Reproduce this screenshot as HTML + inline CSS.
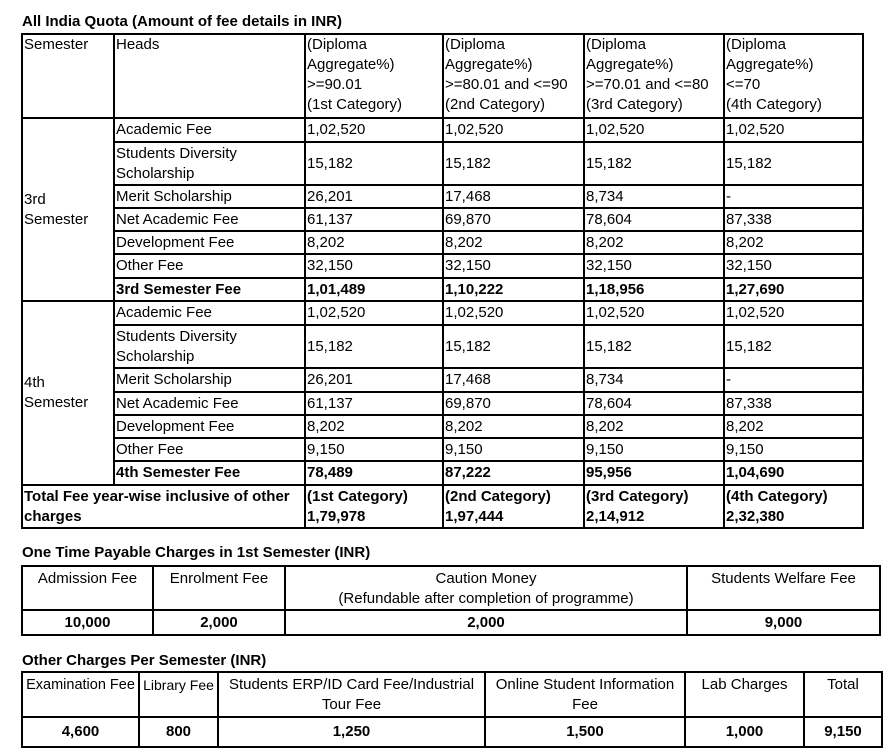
<!DOCTYPE html>
<html><head><meta charset="utf-8"><style>
body{margin:0;width:894px;height:754px;background:#fff;position:relative;font-family:"Liberation Sans",sans-serif;font-size:15px;color:#000;overflow:hidden}
.t{position:absolute;font-weight:bold;font-size:15px;white-space:nowrap}
table{position:absolute;border-collapse:collapse;table-layout:fixed}
td{border:2px solid #000;padding:0 1px;line-height:20px;vertical-align:middle;overflow:hidden;white-space:nowrap}
.h td{vertical-align:top}
b{font-weight:bold}
.c td{text-align:center}
.c td.top{vertical-align:top;padding-top:2px}
</style></head><body>
<div class="t" style="left:22px;top:13px">All India Quota (Amount of fee details in INR)</div>
<table style="left:21px;top:33px;width:841px">
<colgroup><col style="width:92px"><col style="width:191px"><col style="width:138px"><col style="width:141px"><col style="width:140px"><col style="width:139px"></colgroup>
<tr class="h" style="height:84px"><td>Semester</td><td>Heads</td><td>(Diploma<br>Aggregate%)<br>&gt;=90.01<br>(1st Category)</td><td>(Diploma<br>Aggregate%)<br>&gt;=80.01 and &lt;=90<br>(2nd Category)</td><td>(Diploma<br>Aggregate%)<br>&gt;=70.01 and &lt;=80<br>(3rd Category)</td><td>(Diploma<br>Aggregate%)<br>&lt;=70<br>(4th Category)</td></tr>
<tr style="height:24px"><td rowspan="7">3rd<br>Semester</td><td>Academic Fee</td><td>1,02,520</td><td>1,02,520</td><td>1,02,520</td><td>1,02,520</td></tr>
<tr style="height:43px"><td>Students Diversity<br>Scholarship</td><td>15,182</td><td>15,182</td><td>15,182</td><td>15,182</td></tr>
<tr style="height:23px"><td>Merit Scholarship</td><td>26,201</td><td>17,468</td><td>8,734</td><td>-</td></tr>
<tr style="height:23px"><td>Net Academic Fee</td><td>61,137</td><td>69,870</td><td>78,604</td><td>87,338</td></tr>
<tr style="height:23px"><td>Development Fee</td><td>8,202</td><td>8,202</td><td>8,202</td><td>8,202</td></tr>
<tr style="height:24px"><td>Other Fee</td><td>32,150</td><td>32,150</td><td>32,150</td><td>32,150</td></tr>
<tr style="height:23px"><td><b>3rd Semester Fee</b></td><td><b>1,01,489</b></td><td><b>1,10,222</b></td><td><b>1,18,956</b></td><td><b>1,27,690</b></td></tr>
<tr style="height:24px"><td rowspan="7">4th<br>Semester</td><td>Academic Fee</td><td>1,02,520</td><td>1,02,520</td><td>1,02,520</td><td>1,02,520</td></tr>
<tr style="height:43px"><td>Students Diversity<br>Scholarship</td><td>15,182</td><td>15,182</td><td>15,182</td><td>15,182</td></tr>
<tr style="height:24px"><td>Merit Scholarship</td><td>26,201</td><td>17,468</td><td>8,734</td><td>-</td></tr>
<tr style="height:23px"><td>Net Academic Fee</td><td>61,137</td><td>69,870</td><td>78,604</td><td>87,338</td></tr>
<tr style="height:23px"><td>Development Fee</td><td>8,202</td><td>8,202</td><td>8,202</td><td>8,202</td></tr>
<tr style="height:23px"><td>Other Fee</td><td>9,150</td><td>9,150</td><td>9,150</td><td>9,150</td></tr>
<tr style="height:24px"><td><b>4th Semester Fee</b></td><td><b>78,489</b></td><td><b>87,222</b></td><td><b>95,956</b></td><td><b>1,04,690</b></td></tr>
<tr style="height:43px"><td colspan="2"><b>Total Fee year-wise inclusive of other<br>charges</b></td><td><b>(1st Category)<br>1,79,978</b></td><td><b>(2nd Category)<br>1,97,444</b></td><td><b>(3rd Category)<br>2,14,912</b></td><td><b>(4th Category)<br>2,32,380</b></td></tr>
</table>

<div class="t" style="left:22px;top:544px">One Time Payable Charges in 1st Semester (INR)</div>
<table class="c" style="left:21px;top:565px;width:858px">
<colgroup><col style="width:131px"><col style="width:132px"><col style="width:402px"><col style="width:193px"></colgroup>
<tr style="height:44px"><td class="top">Admission Fee</td><td class="top">Enrolment Fee</td><td class="top">Caution Money<br>(Refundable after completion of programme)</td><td class="top">Students Welfare Fee</td></tr>
<tr style="height:25px"><td><b>10,000</b></td><td><b>2,000</b></td><td><b>2,000</b></td><td><b>9,000</b></td></tr>
</table>

<div class="t" style="left:22px;top:652px">Other Charges Per Semester (INR)</div>
<table class="c" style="left:21px;top:671px;width:860px">
<colgroup><col style="width:117px"><col style="width:79px"><col style="width:267px"><col style="width:200px"><col style="width:119px"><col style="width:78px"></colgroup>
<tr style="height:45px"><td class="top" style="font-size:14.5px;padding:2px 0 0">Examination Fee</td><td class="top" style="font-size:14px;padding:2px 0 0">Library Fee</td><td class="top">Students ERP/ID Card Fee/Industrial<br>Tour Fee</td><td class="top">Online Student Information<br>Fee</td><td class="top">Lab Charges</td><td class="top">Total</td></tr>
<tr style="height:30px"><td><b>4,600</b></td><td><b>800</b></td><td><b>1,250</b></td><td><b>1,500</b></td><td><b>1,000</b></td><td><b>9,150</b></td></tr>
</table>
</body></html>
